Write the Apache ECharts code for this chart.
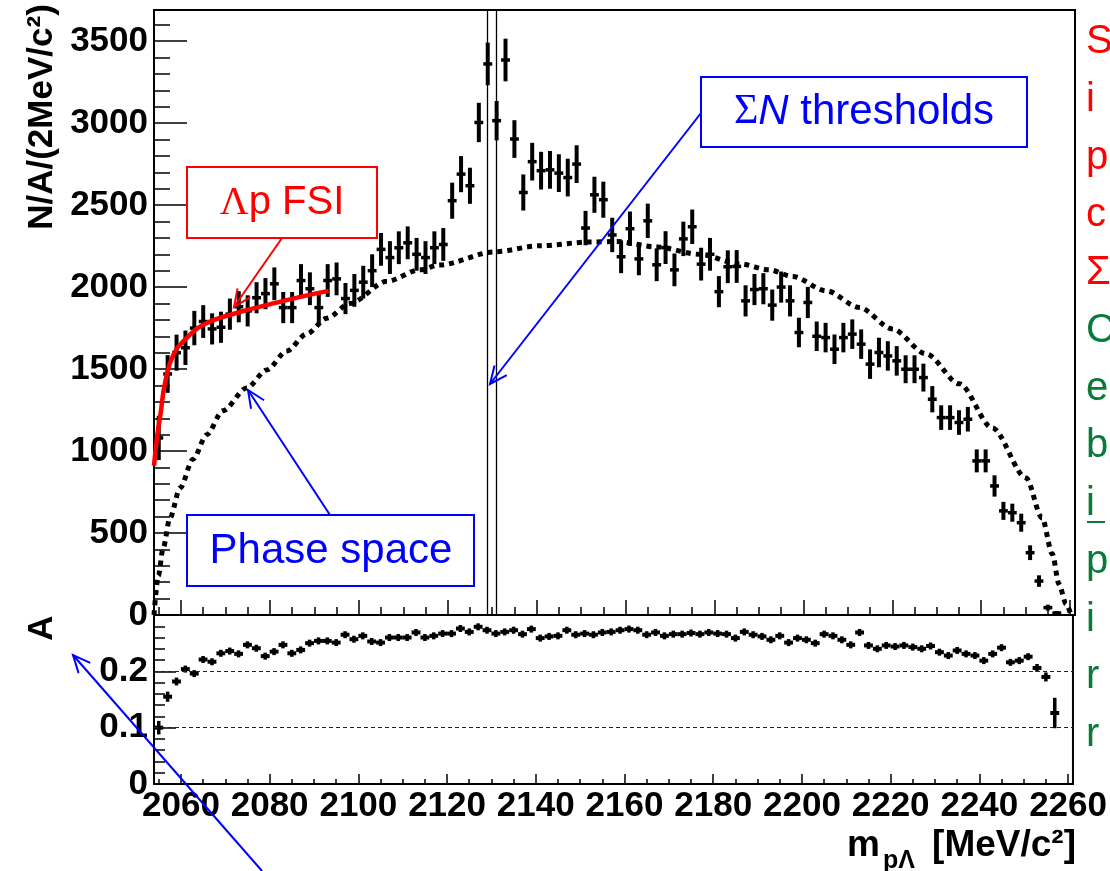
<!DOCTYPE html>
<html><head><meta charset="utf-8">
<script src="https://cdn.jsdelivr.net/npm/echarts@6/dist/echarts.min.js"></script>
<style>html,body{margin:0;padding:0;background:#fff}#c{width:1110px;height:871px}</style>
</head><body><div id="c"></div>
<script>
// ---------- data ----------
const massBins = [2055,2057,2059,2061,2063,2065,2067,2069,2071,2073,
2075,2077,2079,2081,2083,2085,2087,2089,2091,2093,
2095,2097,2099,2101,2103,2105,2107,2109,2111,2113,
2115,2117,2119,2121,2123,2125,2127,2129,2131,2133,
2135,2137,2139,2141,2143,2145,2147,2149,2151,2153,
2155,2157,2159,2161,2163,2165,2167,2169,2171,2173,
2175,2177,2179,2181,2183,2185,2187,2189,2191,2193,
2195,2197,2199,2201,2203,2205,2207,2209,2211,2213,
2215,2217,2219,2221,2223,2225,2227,2229,2231,2233,
2235,2237,2239,2241,2243,2245,2247,2249,2251,2253,
2255,2257];
const binHalfWidth = 1;
const counts = [1080,1470,1600,1630,1750,1790,1745,1755,1835,1880,
1855,1935,1960,2020,1875,1875,2040,1990,1875,2040,
2050,1930,1980,2030,2100,2230,2180,2240,2270,2200,
2180,2240,2260,2527,2689,2618,3004,3361,3015,3385,
2903,2577,2765,2710,2715,2695,2668,2750,2360,2563,
2533,2318,2185,2356,2172,2404,2136,2241,2105,2294,
2368,2140,2200,1972,2124,2126,1916,1985,1990,1890,
2000,1916,1723,1906,1700,1692,1621,1692,1713,1652,
1530,1601,1580,1550,1499,1499,1448,1316,1204,1204,
1174,1194,940,940,787,635,624,563,380,207,
45,12];
const countErr = [135,115,110,105,105,100,95,95,95,95,
95,95,95,100,95,95,100,100,95,100,
100,95,100,100,100,100,100,100,100,100,
100,100,100,110,110,110,120,130,120,130,
115,110,115,115,115,115,115,115,105,110,
110,105,100,105,100,105,100,100,100,105,
105,100,100,95,100,100,95,95,95,95,
95,95,90,95,90,90,90,90,90,90,
90,90,90,90,85,85,85,80,75,75,
75,75,70,70,65,55,55,55,45,35,
18,12];
const accept = [0.1,0.155,0.182,0.204,0.196,0.221,0.217,0.232,0.236,0.231,
0.247,0.241,0.227,0.235,0.247,0.232,0.238,0.25,0.254,0.254,
0.251,0.265,0.257,0.263,0.253,0.251,0.26,0.26,0.26,0.269,
0.26,0.263,0.267,0.267,0.276,0.27,0.279,0.273,0.267,0.27,
0.273,0.266,0.275,0.259,0.262,0.263,0.273,0.265,0.267,0.265,
0.269,0.27,0.273,0.275,0.273,0.265,0.269,0.263,0.266,0.266,
0.268,0.266,0.269,0.267,0.266,0.259,0.27,0.265,0.262,0.256,
0.263,0.251,0.259,0.256,0.25,0.266,0.263,0.256,0.247,0.269,
0.246,0.24,0.246,0.244,0.246,0.243,0.24,0.245,0.234,0.228,
0.237,0.231,0.228,0.219,0.231,0.242,0.216,0.219,0.226,0.206,
0.19,0.126];
const acceptErr = [0.012,0.009,0.007,0.006,0.006,0.006,0.006,0.006,0.006,0.006,
0.006,0.006,0.006,0.006,0.006,0.006,0.006,0.006,0.006,0.006,
0.006,0.006,0.006,0.006,0.006,0.006,0.006,0.006,0.006,0.006,
0.006,0.006,0.006,0.006,0.006,0.006,0.006,0.006,0.006,0.006,
0.006,0.006,0.006,0.006,0.006,0.006,0.006,0.006,0.006,0.006,
0.006,0.006,0.006,0.006,0.006,0.006,0.006,0.006,0.006,0.006,
0.006,0.006,0.006,0.006,0.006,0.006,0.006,0.006,0.006,0.006,
0.006,0.006,0.006,0.006,0.006,0.006,0.006,0.006,0.006,0.006,
0.006,0.006,0.006,0.006,0.006,0.006,0.006,0.006,0.006,0.006,
0.006,0.006,0.006,0.006,0.006,0.006,0.006,0.006,0.006,0.007,
0.008,0.027];
const fsiMass = [2053.93,2054.6,2055.4,2056.5,2058.4,2061.3,2065.1,2072.5,2080.1,2087.6,2093.2];
const fsiVal  = [910,1080,1227,1428,1593,1690,1772,1842,1896,1945,1977];
const psMass = [2053.93,2054.9,2056.0,2057.5,2059.8,2062.7,2065.8,2069.4,2074.8,2079.3,2083.8,2088.3,2092.8,2098.0,2106.3,2113.7,2118.2,2130.6,2140.7,2151.9,2158.0,2166.9,2176.6,2185.6,2192.4,2197.5,2205.2,2212.6,2220.0,2227.6,2235.1,2242.5,2250.1,2253.7,2256.0,2257.5,2259.1,2260.2];
const psVal  = [0,240,410,590,775,950,1100,1245,1385,1495,1610,1715,1810,1900,2035,2105,2135,2215,2252,2275,2278,2245,2200,2142,2105,2065,1977,1875,1745,1593,1410,1141,836,592,372,189,67,0];
const sigmaNThresholds = [2128.94, 2130.91];
const xMajorTicks = [2060,2080,2100,2120,2140,2160,2180,2200,2220,2240,2260];
const xMinorTicks = [2055,2060,2065,2070,2075,2080,2085,2090,2095,2100,2105,2110,2115,2120,2125,2130,2135,2140,2145,2150,2155,2160,2165,2170,2175,2180,2185,2190,2195,2200,2205,2210,2215,2220,2225,2230,2235,2240,2245,2250,2255,2260];
const yMajorTicks = [0,500,1000,1500,2000,2500,3000,3500];
const yMinorTicks = [100,200,300,400,600,700,800,900,1100,1200,1300,1400,1600,1700,1800,1900,2100,2200,2300,2400,2600,2700,2800,2900,3100,3200,3300,3400,3600];
const aMajorTicks = [0,0.1,0.2];
const aMinorTicks = [0.02,0.04,0.06,0.08,0.12,0.14,0.16,0.18,0.22,0.24,0.26,0.28];
const aGuideLines = [0.1,0.2];
const sideLetters = ['S','i','p','c','Σ','C','e','b','i','p','i','r','r'];
const sideIsRed   = [1,1,1,1,1,0,0,0,0,0,0,0,0];

// ---------- chart ----------
const FONT = '"Liberation Sans", Arial, sans-serif';
const chart = echarts.init(document.getElementById('c'), null, {renderer:'canvas'});
const X0 = 2053.93, X1 = 2261.1;

function errRender(vw, hw, minHalf){
  return function(params, api){
    const x = api.value(0), y = api.value(1), e = api.value(2);
    const c = api.coord([x, y]);
    let top = api.coord([x, y + e])[1], bot = api.coord([x, y - e])[1];
    if (c[1] - top < minHalf) top = c[1] - minHalf;
    if (bot - c[1] < minHalf) bot = c[1] + minHalf;
    const l = api.coord([x - binHalfWidth, y]), r = api.coord([x + binHalfWidth, y]);
    return {type:'group', children:[
      {type:'line', shape:{x1:c[0], y1:top, x2:c[0], y2:bot}, style:{stroke:'#000', lineWidth:vw}},
      {type:'line', shape:{x1:l[0], y1:l[1], x2:r[0], y2:r[1]}, style:{stroke:'#000', lineWidth:hw}}
    ]};
  };
}
function arrow(x1,y1,x2,y2,color){
  const ang = Math.atan2(y1-y2, x1-x2), L = 19, a = 0.42;
  return [
    {type:'line', shape:{x1,y1,x2,y2}, style:{stroke:color, lineWidth:2}, z:20},
    {type:'polyline', shape:{points:[[x2+L*Math.cos(ang+a), y2+L*Math.sin(ang+a)],[x2,y2],[x2+L*Math.cos(ang-a), y2+L*Math.sin(ang-a)]]},
     style:{stroke:color, lineWidth:2, fill:'none'}, z:20}
  ];
}
const numFmt = v => String(v);
function xAx(grid, ticks, len, labels){
  return {type:'value', gridIndex:grid, position:'bottom', min:X0, max:X1,
    axisLine:{show:false, onZero:false}, splitLine:{show:false},
    axisTick:{show:true, inside:true, length:len, customValues:ticks, lineStyle:{color:'#000', width:1.5}},
    axisLabel: labels ? {show:true, customValues:labels, formatter:numFmt, margin:5,
      fontFamily:FONT, fontWeight:'bold', fontSize:35, color:'#000'} : {show:false}};
}
function yAx(grid, min, max, ticks, len, labels){
  return {type:'value', gridIndex:grid, position:'left', min, max,
    axisLine:{show:false, onZero:false}, splitLine:{show:false},
    axisTick:{show:true, inside:true, length:len, customValues:ticks, lineStyle:{color:'#000', width:1.5}},
    axisLabel: labels ? {show:true, customValues:labels, formatter:numFmt, margin:6,
      fontFamily:FONT, fontWeight:'bold', fontSize:35, color:'#000'} : {show:false}};
}

const graphics = [];
// axis titles
graphics.push({type:'text', x:42, y:117, rotation:Math.PI/2, z:30,
  style:{text:'N/A/(2MeV/c²)', font:'bold 35px '+FONT, fill:'#000', align:'center', verticalAlign:'middle'}});
graphics.push({type:'text', x:42, y:628, rotation:Math.PI/2, z:30,
  style:{text:'A', font:'bold 35px '+FONT, fill:'#000', align:'center', verticalAlign:'middle'}});
graphics.push({type:'text', x:1076, y:846, z:30,
  style:{text:'[MeV/c²]', font:'bold 37px '+FONT, fill:'#000', align:'right', verticalAlign:'middle'}});
graphics.push({type:'text', x:915, y:861, z:30,
  style:{text:'pΛ', font:'bold 25px '+FONT, fill:'#000', align:'right', verticalAlign:'middle'}});
graphics.push({type:'text', x:880, y:846, z:30,
  style:{text:'m', font:'bold 37px '+FONT, fill:'#000', align:'right', verticalAlign:'middle'}});
// annotation boxes
graphics.push({type:'rect', shape:{x:187, y:167, width:190, height:71}, style:{fill:'#fff', stroke:'#f00', lineWidth:2}, z:20});
graphics.push({type:'text', x:282, y:203, z:21, style:{text:'{l|Λ}{t|p FSI}', align:'center', verticalAlign:'middle',
  rich:{l:{font:'40px "Liberation Serif", serif', fill:'#f00'}, t:{font:'40px '+FONT, fill:'#f00'}}}});
graphics.push({type:'rect', shape:{x:187, y:515, width:287, height:71}, style:{fill:'#fff', stroke:'#00f', lineWidth:2}, z:20});
graphics.push({type:'text', x:331, y:551, z:21, style:{text:'Phase space', font:'42px '+FONT, fill:'#00f', align:'center', verticalAlign:'middle'}});
graphics.push({type:'rect', shape:{x:701, y:77, width:326, height:70}, style:{fill:'#fff', stroke:'#00f', lineWidth:2}, z:20});
graphics.push({type:'text', x:864, y:112, z:21, style:{text:'{s|Σ}{n|N}{t| thresholds}', align:'center', verticalAlign:'middle',
  rich:{s:{font:'42px "Liberation Serif", serif', fill:'#00f'}, n:{font:'italic 42px '+FONT, fill:'#00f'}, t:{font:'42px '+FONT, fill:'#00f'}}}});
// arrows
graphics.push(...arrow(282,238,234,307,'#f00'));
graphics.push(...arrow(330,515,248,390,'#00f'));
graphics.push(...arrow(701,113,490,384,'#00f'));
graphics.push(...arrow(262,871,73,655,'#00f'));
// clipped side text
sideLetters.forEach((ch,k) => {
  const y = 42 + k*57.75;
  graphics.push({type:'text', x:1086, y:y, z:30, style:{text:ch, font:'40px '+FONT,
    fill: sideIsRed[k] ? '#ff0000' : '#0a7a3a', align:'left', verticalAlign:'middle'}});
  if (k === 8) graphics.push({type:'line', shape:{x1:1087, y1:y+18, x2:1105, y2:y+18}, style:{stroke:'#0a7a3a', lineWidth:2}, z:30});
});

const option = {
  backgroundColor:'#fff',
  animation:false,
  grid:[
    {left:154, top:10, width:921, height:605, show:true, borderColor:'#000', borderWidth:2, backgroundColor:'transparent'},
    {left:154, top:615, width:921, height:169, show:true, borderColor:'#000', borderWidth:2, backgroundColor:'transparent'}
  ],
  xAxis:[
    xAx(0, xMajorTicks, 15, null),
    xAx(0, xMinorTicks, 8, null),
    xAx(1, xMajorTicks, 10, xMajorTicks),
    xAx(1, xMinorTicks, 5, null)
  ],
  yAxis:[
    yAx(0, 0, 3690, yMajorTicks, 33, yMajorTicks),
    yAx(0, 0, 3690, yMinorTicks, 16, null),
    yAx(1, 0, 0.3, aMajorTicks, 22, aMajorTicks),
    yAx(1, 0, 0.3, aMinorTicks, 11, null)
  ],
  series:[
    {type:'line', name:'phase space', xAxisIndex:0, yAxisIndex:0, z:2,
     data: psMass.map((m,i)=>[m, psVal[i]]), smooth:0.3, smoothMonotone:'x', showSymbol:false, symbol:'none',
     lineStyle:{color:'#000', width:5, type:[5,5], cap:'butt'},
     markLine:{silent:true, symbol:'none', label:{show:false},
       lineStyle:{color:'#000', width:1.3, type:'solid'},
       data: sigmaNThresholds.map(v=>({xAxis:v}))}},
    {type:'custom', name:'data', xAxisIndex:0, yAxisIndex:0, z:3, clip:true,
     renderItem: errRender(4, 3.5, 2), encode:{x:0, y:1},
     data: massBins.map((m,i)=>[m, counts[i], countErr[i]])},
    {type:'line', name:'FSI', xAxisIndex:0, yAxisIndex:0, z:4,
     data: fsiMass.map((m,i)=>[m, fsiVal[i]]), smooth:0.5, showSymbol:false, symbol:'none',
     lineStyle:{color:'#ff0000', width:4.5}},
    {type:'custom', name:'acceptance', xAxisIndex:2, yAxisIndex:2, z:3, clip:true,
     renderItem: errRender(3.5, 4, 3.5), encode:{x:0, y:1},
     data: massBins.map((m,i)=>[m, accept[i], acceptErr[i]]),
     markLine:{silent:true, symbol:'none', label:{show:false},
       lineStyle:{color:'#222', width:1, type:[4,3]},
       data: aGuideLines.map(v=>({yAxis:v}))}}
  ],
  graphic: graphics
};
chart.setOption(option);
</script>
</body></html>
